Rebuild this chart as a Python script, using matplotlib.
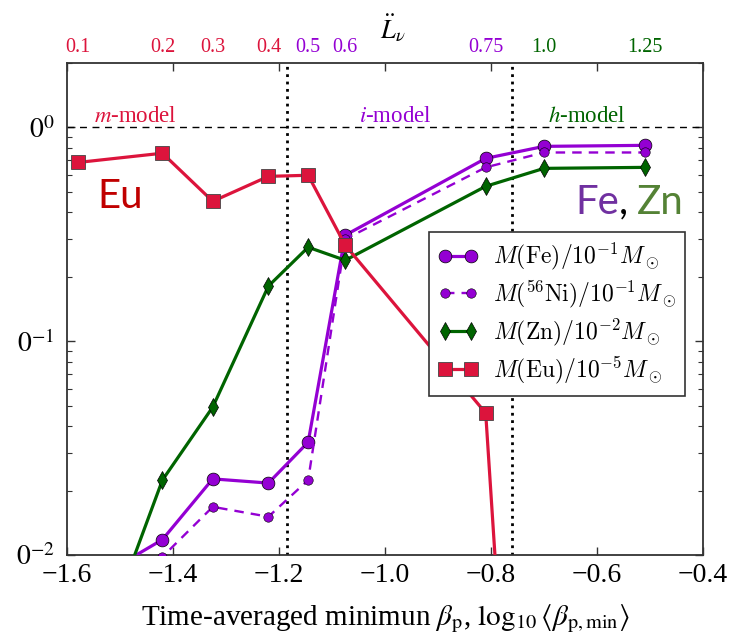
import numpy as np
import matplotlib
matplotlib.use("Agg")
import matplotlib.pyplot as plt
from matplotlib.font_manager import FontProperties
from matplotlib.ticker import FuncFormatter, LogLocator, NullFormatter, FixedLocator
import matplotlib.transforms as mtransforms

plt.rcParams['font.family'] = ['Liberation Serif', 'DejaVu Serif']
plt.rcParams['mathtext.fontset'] = 'stix'

# ---- data ----
x_all = [-1.58, -1.42, -1.325, -1.22, -1.145, -1.075, -0.81, -0.70, -0.51]
fe = [0.0069, 0.0118, 0.0227, 0.0217, 0.0337, 0.313, 0.716, 0.815, 0.824]
ni = [0.0050, 0.0098, 0.0168, 0.0151, 0.0224, 0.300, 0.650, 0.763, 0.763]
zn = [0.0019, 0.0224, 0.0492, 0.181, 0.275, 0.239, 0.530, 0.643, 0.650]
eu_x = [-1.58, -1.42, -1.325, -1.22, -1.145, -1.075, -0.81, -0.70]
eu = [0.685, 0.757, 0.451, 0.590, 0.597, 0.281, 0.0461, 3e-6]
lnu_labels = ['0.1', '0.2', '0.3', '0.4', '0.5', '0.6', '0.75', '1.0', '1.25']
lnu_groups = ['m', 'm', 'm', 'm', 'i', 'i', 'i', 'h', 'h']
model_names = ['m', 'i', 'h']
model_x = [-1.47, -0.98, -0.62]
boundaries = [-1.185, -0.76]

RED = '#dc143c'
PURPLE = '#9400d3'
GREEN = '#006400'
gcol = {'m': RED, 'i': PURPLE, 'h': GREEN}

fig = plt.figure(figsize=(7.36, 6.37), dpi=100)
ax = fig.add_axes([67/736, 1-555/637, 636/736, 492/637])

ax.plot(x_all, fe, '-', color=PURPLE, lw=2.3, marker='o', ms=9.2, mfc=PURPLE,
        mec='k', mew=0.5, label=r'$M(\mathrm{Fe})/10^{-1}M_\odot$', zorder=4)
ax.plot(x_all, ni, '--', color=PURPLE, lw=1.7, marker='o', ms=6.8, mfc=PURPLE,
        mec='k', mew=0.4, dashes=(4, 3), label=r'$M(^{56}\mathrm{Ni})/10^{-1}M_\odot$', zorder=4)
ax.plot(x_all, zn, '-', color=GREEN, lw=2.3, marker='d', ms=9, mfc=GREEN,
        mec='k', mew=0.5, label=r'$M(\mathrm{Zn})/10^{-2}M_\odot$', zorder=4)
ax.plot(eu_x, eu, '-', color=RED, lw=2.3, marker='s', ms=9.5, mfc=RED,
        mec='#444', mew=0.6, label=r'$M(\mathrm{Eu})/10^{-5}M_\odot$', zorder=5)

ax.set_yscale('log')
ax.set_xlim(-1.6, -0.4)
ax.set_ylim(0.01, 2.0)

ax.axhline(1.0, color='k', ls='--', lw=1.0, dashes=(5, 4), zorder=2)
for b in boundaries:
    ax.axvline(b, color='k', ls=':', lw=2.0, zorder=2)

ax.yaxis.set_major_locator(LogLocator(base=10, numticks=10))
ax.yaxis.set_major_formatter(FuncFormatter(lambda v, p: r'$0^{%d}$' % int(round(np.log10(v)))))
ax.yaxis.set_minor_formatter(NullFormatter())
ax.xaxis.set_major_locator(FixedLocator([-1.6, -1.4, -1.2, -1.0, -0.8, -0.6, -0.4]))
ax.xaxis.set_major_formatter(FuncFormatter(lambda v, p: '\u2212%.1f' % abs(v) if v < 0 else '%.1f' % v))

ax.tick_params(which='both', direction='in', top=True, right=True, colors='#333')
ax.tick_params(which='major', length=6, width=1.0, labelsize=20, labelcolor='k')
ax.tick_params(axis='x', which='major', pad=6)
ax.tick_params(axis='y', which='major', pad=9)
ax.tick_params(which='minor', length=3.5, width=0.8)
for s in ax.spines.values():
    s.set_color('#333')
    s.set_linewidth(1.3)

ax.set_xlabel(r'Time-averaged minimun $\beta_{\rm p}$, $\log_{10}\langle\beta_{\rm p,min}\rangle$',
              fontsize=21, labelpad=10)

trans = mtransforms.blended_transform_factory(ax.transData, ax.transAxes)
for xv, lab, g in zip(x_all, lnu_labels, lnu_groups):
    ax.text(xv, 1.032, lab, transform=trans, ha='center', va='center',
            fontsize=14.5, color=gcol[g])
ax.text(-0.985, 1.071, r'$\ddot{L}_\nu$', transform=trans, ha='center', va='center',
        fontsize=19, color='k')

for xv, m in zip(model_x, model_names):
    ax.text(xv, 1.13, r'$%s$-model' % m, ha='center', va='center', fontsize=16.5,
            color=gcol[m])

ax.text(-1.50, 0.476, 'Eu', ha='center', va='center', fontsize=29,
        color='#c00000', family='Lato')
ax.text(-0.558, 0.447, 'Fe', ha='right', va='center', fontsize=29, color='#7030a0', family='Lato')
ax.text(-0.558, 0.447, ', ', ha='left', va='center', fontsize=29, color='k', family='Lato')
ax.text(-0.525, 0.447, 'Zn', ha='left', va='center', fontsize=29, color='#548235', family='Lato')

leg = ax.legend(loc='upper left', bbox_to_anchor=(0.569, 0.657), borderaxespad=0,
                numpoints=2, handlelength=1.7, fancybox=False, framealpha=1,
                edgecolor='#333', prop=FontProperties(size=17, math_fontfamily='cm'),
                labelspacing=0.28, borderpad=0.4, handletextpad=0.6)
leg.get_frame().set_linewidth(1.2)

fig.savefig('out.png', dpi=100)
